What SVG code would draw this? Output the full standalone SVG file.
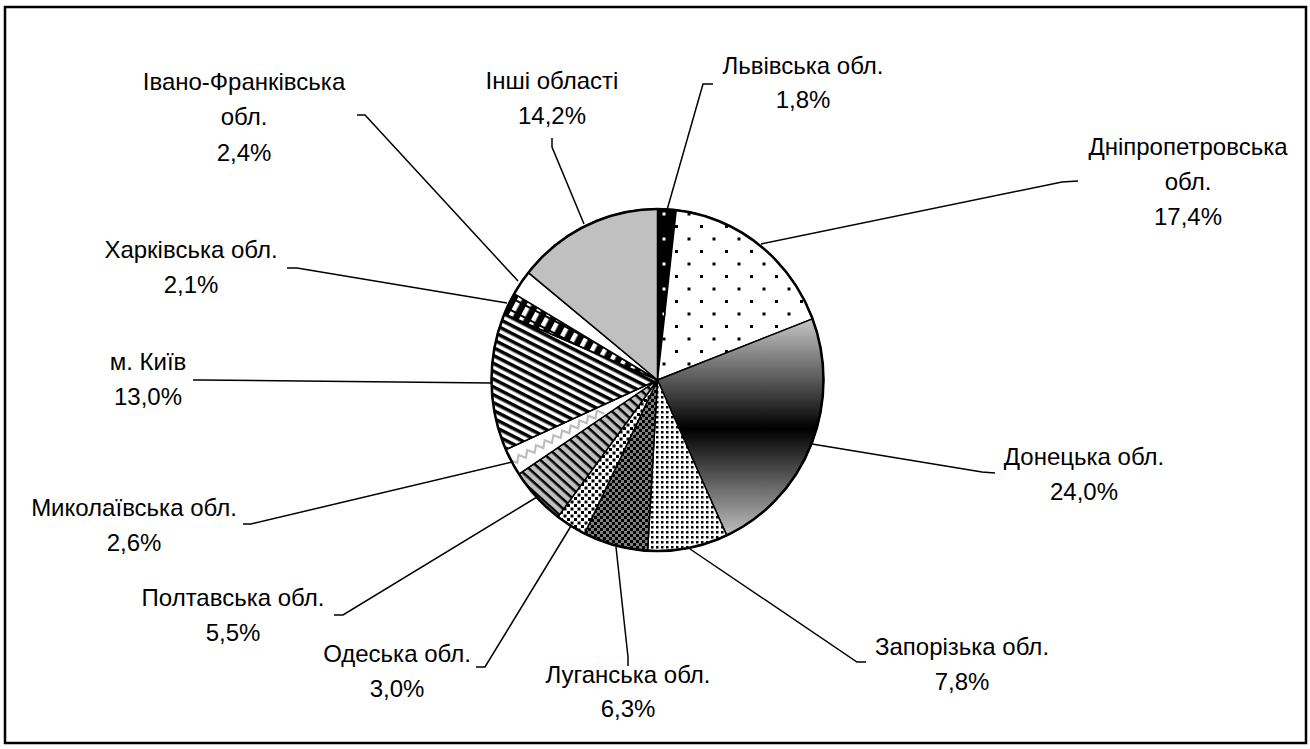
<svg xmlns="http://www.w3.org/2000/svg" width="1310" height="749" viewBox="0 0 1310 749">
<style>
text{font-family:"Liberation Sans",Arial,sans-serif;font-size:24px;fill:#000;text-anchor:middle}
.slice{stroke:#000;stroke-width:1.5;stroke-linejoin:round}
.lead{fill:none;stroke:#000;stroke-width:1.5}
</style>
<defs>
<pattern id="pLviv" width="25" height="25" patternUnits="userSpaceOnUse">
<rect width="25" height="25" fill="#000"/>
<rect x="0" y="0" width="3" height="3" fill="#fff"/>
<rect x="12.5" y="12.5" width="3" height="3" fill="#fff"/>
</pattern>
<pattern id="pDnipro" width="25" height="25" patternUnits="userSpaceOnUse">
<rect width="25" height="25" fill="#fff"/>
<rect x="0" y="0" width="3" height="3" fill="#000"/>
<rect x="12.5" y="12.5" width="3" height="3" fill="#000"/>
</pattern>
<linearGradient id="gDonetsk" gradientUnits="userSpaceOnUse" x1="0" y1="318" x2="0" y2="540">
<stop offset="0" stop-color="#c8c8c8"/>
<stop offset="0.5" stop-color="#000"/>
<stop offset="1" stop-color="#c8c8c8"/>
</linearGradient>
<pattern id="pZap" width="5" height="5" patternUnits="userSpaceOnUse">
<rect width="5" height="5" fill="#fff"/>
<rect x="1" y="1" width="2.5" height="2.5" fill="#000"/>
</pattern>
<pattern id="pLug" width="6" height="6" patternUnits="userSpaceOnUse">
<rect width="6" height="6" fill="#808080"/>
<rect x="0" y="0" width="3" height="3" fill="#000"/>
<rect x="3" y="3" width="3" height="3" fill="#000"/>
</pattern>
<pattern id="pOdesa" width="7" height="7" patternUnits="userSpaceOnUse">
<rect width="7" height="7" fill="#fff"/>
<rect x="0" y="0" width="3" height="3" fill="#000"/>
<rect x="3.5" y="3.5" width="3" height="3" fill="#000"/>
</pattern>
<pattern id="pPoltava" width="7" height="7" patternUnits="userSpaceOnUse" patternTransform="rotate(42)">
<rect width="7" height="7" fill="#c0c0c0"/>
<rect x="0" y="0" width="7" height="2.5" fill="#000"/>
</pattern>
<pattern id="pKyiv" width="7" height="7" patternUnits="userSpaceOnUse" patternTransform="rotate(27)">
<rect width="7" height="7" fill="#fff"/>
<rect x="0" y="0" width="7" height="3.5" fill="#000"/>
</pattern>
<pattern id="pKharkiv" width="11" height="11" patternUnits="userSpaceOnUse" patternTransform="rotate(28)">
<rect width="11" height="11" fill="#000"/>
<rect x="3" y="2" width="4.5" height="9" fill="#fff"/>
</pattern>
<clipPath id="cMykol"><path d="M657.5,380 L518.85,474.03 A166,171 0 0 1 505.85,449.55 Z"/></clipPath>
</defs>
<rect x="5" y="7" width="1301" height="736" fill="#fff" stroke="#000" stroke-width="2.5"/>
<g id="pie">
<g id="slice-lviv"><path class="slice" fill="url(#pLviv)" d="M657.5,380 L657.5,209 A166,171 0 0 1 676.22,210.09 Z"/></g>
<g id="slice-dnipro"><path class="slice" fill="url(#pDnipro)" d="M657.5,380 L676.22,210.09 A166,171 0 0 1 812.53,318.86 Z"/></g>
<g id="slice-donetsk"><path class="slice" fill="url(#gDonetsk)" d="M657.5,380 L812.53,318.86 A166,171 0 0 1 726.70,535.43 Z"/></g>
<g id="slice-zaporizh"><path class="slice" fill="url(#pZap)" d="M657.5,380 L726.70,535.43 A166,171 0 0 1 647.60,550.70 Z"/></g>
<g id="slice-luhansk"><path class="slice" fill="url(#pLug)" d="M657.5,380 L647.60,550.70 A166,171 0 0 1 584.55,533.60 Z"/></g>
<g id="slice-odesa"><path class="slice" fill="url(#pOdesa)" d="M657.5,380 L584.55,533.60 A166,171 0 0 1 557.92,516.82 Z"/></g>
<g id="slice-poltava"><path class="slice" fill="url(#pPoltava)" d="M657.5,380 L557.92,516.82 A166,171 0 0 1 518.85,474.03 Z"/></g>
<g id="slice-mykolaiv">
<path fill="#fff" d="M657.5,380 L518.85,474.03 A166,171 0 0 1 505.85,449.55 Z"/>
<polyline clip-path="url(#cMykol)" fill="none" stroke="#bdbdbd" stroke-width="2.2" points="508.5,467.6 509.87,459.93 517.18,462.69 518.57,455.01 525.88,457.77 527.27,450.09 534.58,452.85 535.97,445.17 543.28,447.93 544.67,440.25 551.98,443.01 553.37,435.33 560.68,438.09 562.07,430.41 569.38,433.17 570.77,425.49 578.08,428.25 579.47,420.57 586.78,423.33 588.17,415.65 595.48,418.41 596.87,410.73 604.18,413.49"/>
<path class="slice" fill="none" d="M657.5,380 L518.85,474.03 A166,171 0 0 1 505.85,449.55 Z"/>
</g>
<g id="slice-kyiv"><path class="slice" fill="url(#pKyiv)" d="M657.5,380 L505.85,449.55 A166,171 0 0 1 504.42,313.87 Z"/></g>
<g id="slice-kharkiv"><path class="slice" fill="url(#pKharkiv)" d="M657.5,380 L504.42,313.87 A166,171 0 0 1 514.18,293.71 Z"/></g>
<g id="slice-ivanofr"><path class="slice" fill="#fff" d="M657.5,380 L514.18,293.71 A166,171 0 0 1 528.37,272.56 Z"/></g>
<g id="slice-inshi"><path class="slice" fill="#c0c0c0" d="M657.5,380 L528.37,272.56 A166,171 0 0 1 657.5,209 Z"/></g>
<ellipse cx="657.5" cy="380" rx="166" ry="171" fill="none" stroke="#000" stroke-width="2.5"/>
</g>
<g id="connectors">
<polyline class="lead" points="713,84 703,84 667,210"/>
<polyline class="lead" points="1078,181 1062,182 761,244"/>
<polyline class="lead" points="812,444 982,472 995,473"/>
<polyline class="lead" points="690,549 857,662 866,662"/>
<polyline class="lead" points="616,547 628,657 628,666"/>
<polyline class="lead" points="571,526 485,667 476,667"/>
<polyline class="lead" points="537,497 343,615 334,615"/>
<polyline class="lead" points="512,462 251,524 243,524"/>
<polyline class="lead" points="193,380 200,380 491,383"/>
<polyline class="lead" points="287,268 297,268 507,303"/>
<polyline class="lead" points="357,115 365,115 518,281"/>
<polyline class="lead" points="552,138 552,147 584,224"/>
</g>
<g id="label-lviv"><text x="803" y="74">Львівська обл.</text><text x="803" y="108">1,8%</text></g>
<g id="label-dnipro"><text x="1188" y="155">Дніпропетровська</text><text x="1188" y="190">обл.</text><text x="1188" y="225">17,4%</text></g>
<g id="label-donetsk"><text x="1084" y="465">Донецька обл.</text><text x="1084" y="500">24,0%</text></g>
<g id="label-zaporizh"><text x="962" y="655">Запорізька обл.</text><text x="962" y="690">7,8%</text></g>
<g id="label-luhansk"><text x="628" y="683">Луганська обл.</text><text x="628" y="717">6,3%</text></g>
<g id="label-odesa"><text x="397" y="662">Одеська обл.</text><text x="397" y="697">3,0%</text></g>
<g id="label-poltava"><text x="233" y="606">Полтавська обл.</text><text x="233" y="641">5,5%</text></g>
<g id="label-mykolaiv"><text x="134" y="516">Миколаївська обл.</text><text x="134" y="551">2,6%</text></g>
<g id="label-kyiv"><text x="148" y="370">м. Київ</text><text x="148" y="405">13,0%</text></g>
<g id="label-kharkiv"><text x="191" y="258">Харківська обл.</text><text x="191" y="293">2,1%</text></g>
<g id="label-ivanofr"><text x="244" y="90">Івано-Франківська</text><text x="244" y="125">обл.</text><text x="244" y="161">2,4%</text></g>
<g id="label-inshi"><text x="552" y="89">Інші області</text><text x="552" y="124">14,2%</text></g>
</svg>
